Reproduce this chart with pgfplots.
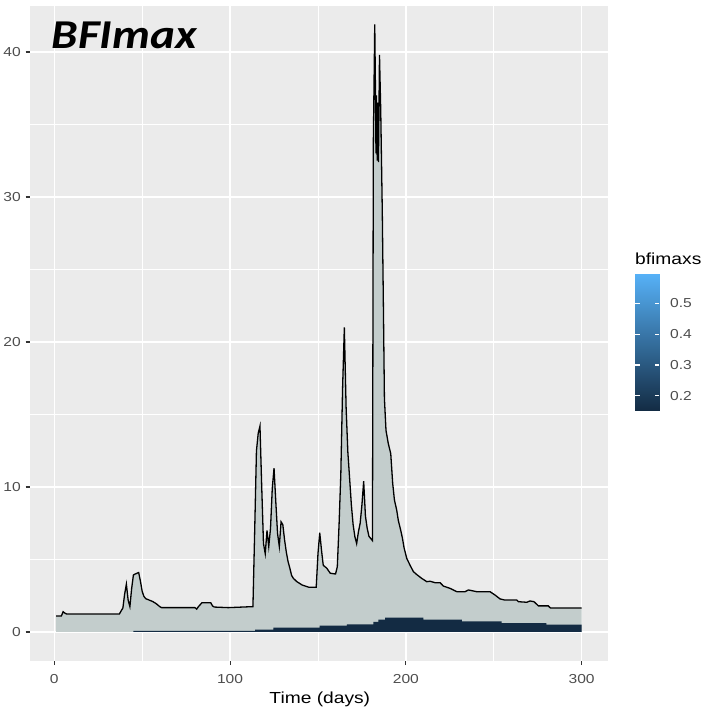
\documentclass[border=0pt]{standalone}
\usepackage{fontspec}
\setmainfont{Liberation Sans}[FakeStretch=1.2]
\newfontfamily\titlefont{Carlito}[FakeStretch=1.15]
\usepackage{pgfplots}
\pgfplotsset{compat=1.18}
\usepackage{pgfplotstable}

\definecolor{panel}{RGB}{235,235,235}
\definecolor{areafill}{RGB}{195,205,204}
\definecolor{bandfill}{RGB}{19,43,67}
\definecolor{grey30}{RGB}{77,77,77}
\definecolor{grey20}{RGB}{51,51,51}

\newcommand\tickfont{\fontsize{13bp}{15bp}\selectfont}
\newcommand\labfont{\fontsize{16bp}{19bp}\selectfont}

% upper series (black outline)
\pgfplotstableread{
day val
1 1.10
4 1.10
5 1.40
6 1.30
7 1.24
37 1.24
38 1.45
39 1.65
40 2.60
41 3.30
42 2.20
43 1.75
44 3.00
45 3.93
46 4.00
47 4.05
48 4.10
49 3.50
50 2.80
51 2.45
52 2.30
54 2.20
56 2.10
58 1.95
60 1.75
61 1.68
80 1.68
81 1.58
82 1.75
84 2.02
89 2.02
90 1.80
91 1.72
99 1.68
113 1.75
114 7.00
115 12.50
116 13.70
117 14.20
118 10.00
119 6.10
120 5.40
121 7.00
122 5.90
123 7.15
124 9.90
125 11.30
126 9.00
127 6.80
128 5.90
129 7.60
130 7.40
131 6.35
132 5.50
133 4.85
134 4.40
135 3.90
136 3.70
138 3.47
141 3.24
145 3.08
149 3.08
150 5.40
151 6.85
152 5.65
153 4.60
155 4.40
157 4.05
160 4.00
161 4.50
162 7.40
163 10.90
164 16.80
165 21.00
166 15.50
167 12.40
168 10.60
169 8.76
170 7.40
171 6.57
172 6.10
173 6.90
174 7.50
175 8.76
176 10.40
177 8.00
178 7.15
179 6.60
181 6.30
181.5 33.80
182.3 41.90
182.7 37.40
183.0 33.00
183.3 37.00
183.7 32.50
184.0 36.50
184.4 32.40
185.0 39.80
185.7 36.00
186.6 28.90
187.3 21.60
187.8 16.10
188.7 13.90
190.0 13.00
191.4 12.30
192.5 10.26
193.5 9.10
194.8 8.40
195.7 7.70
197.1 7.00
198.0 6.50
199.0 5.80
200.5 5.08
202.4 4.60
204.3 4.16
206.5 3.93
209.0 3.70
211.9 3.47
213.8 3.50
216.6 3.40
219.5 3.40
221.3 3.17
225.1 3.01
229.0 2.78
233.7 2.78
235.6 2.90
240.3 2.78
247.9 2.78
250.7 2.55
253.6 2.28
256.4 2.20
263.1 2.20
264.0 2.09
268.8 2.05
270.6 2.14
272.9 2.09
275.4 1.80
281.0 1.80
282.2 1.66
300.0 1.66
}\topline

% dark band (bfimaxs), step-wise
\pgfplotstableread{
day val
45 0.07
114.2 0.16
124.6 0.30
151 0.44
166.4 0.53
181.5 0.69
184.4 0.85
188.2 0.99
210 0.85
231.8 0.74
254.5 0.62
280 0.50
300 0.50
}\band

% colour bar (legend) grid
\pgfplotstableread{
x y m
0 0.152 0.152
1 0.152 0.152
0 0.594 0.594
1 0.594 0.594
}\cbar

\begin{document}
\begin{tikzpicture}
\useasboundingbox (0,0) rectangle (718bp,707bp);
\begin{axis}[
  at={(29.7bp,46bp)}, anchor=south west,
  width=578.3bp, height=655bp, scale only axis,
  xmin=-14, xmax=315, ymin=-2, ymax=43.17,
  axis background/.style={fill=panel},
  axis lines*=left, axis line style={draw=none},
  xtick={0,100,200,300}, ytick={0,10,20,30,40},
  minor xtick={50,150,250}, minor ytick={5,15,25,35},
  grid=both,
  major grid style={white, line width=1.4bp},
  minor grid style={white, line width=0.7bp},
  tick align=outside, major tick length=4bp, minor tick length=0pt,
  tick style={grey20, line width=1.1bp},
  /pgf/number format/assume math mode=true,
  ticklabel style={font=\tickfont, text=grey30},
  yticklabel style={anchor=east, inner sep=0pt, xshift=-4.7bp},
  xticklabel style={anchor=north, inner sep=0pt, yshift=-9bp},
]
\addplot[draw=none, fill=areafill] table[x=day, y=val] {\topline} \closedcycle;
\addplot[const plot, draw=none, fill=bandfill] table[x=day, y=val] {\band} \closedcycle;
\addplot[black, line width=1.3bp] table[x=day, y=val] {\topline};
\end{axis}
\begin{axis}[
  at={(635bp,296.3bp)}, anchor=south west,
  width=24bp, height=136.4bp, scale only axis,
  xmin=0, xmax=1, ymin=0.152, ymax=0.594,
  hide x axis, axis on top,
  axis line style={draw=none},
  colormap={gg}{rgb255=(19,43,67) rgb255=(86,177,247)},
  point meta min=0.152, point meta max=0.594,
  ytick={0.2,0.3,0.4,0.5},
  yticklabel pos=right, ytick pos=both,
  tick align=inside, major tick length=4.5bp,
  tick style={white, line width=1.1bp},
  /pgf/number format/assume math mode=true,
  /pgf/number format/fixed, /pgf/number format/precision=1,
  yticklabel style={font=\tickfont, text=grey30, anchor=west, inner sep=0pt, xshift=11bp},
]
\addplot[surf, shader=interp, mesh/cols=2, point meta=\thisrow{m}] table[x=x, y=y] {\cbar};
\end{axis}
\node[anchor=base west, inner sep=0pt, font={\titlefont\fontsize{41bp}{45bp}\selectfont\bfseries\itshape}] at (51.7bp,658.7bp) {BFImax};
\node[anchor=base, inner sep=0pt, font=\labfont] at (319.8bp,4bp) {Time (days)};
\node[anchor=base west, inner sep=0pt, font=\labfont] at (635bp,442bp) {bfimaxs};
\end{tikzpicture}
\end{document}
